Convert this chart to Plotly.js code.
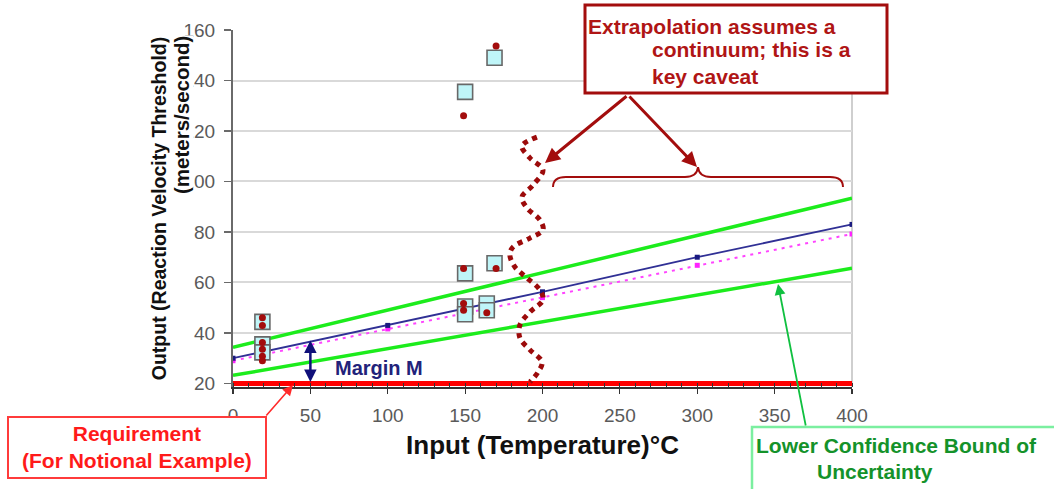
<!DOCTYPE html>
<html>
<head>
<meta charset="utf-8">
<script src="https://cdn.plot.ly/plotly-3.0.1.min.js"></script>
<style>
  html, body { margin: 0; padding: 0; background: #ffffff; }
  #chart { width: 1054px; height: 489px; }
</style>
</head>
<body>
<div id="chart"></div>
<script>
// ---- Data ----
const xTickVals = [0, 50, 100, 150, 200, 250, 300, 350, 400];
const yTickVals = [20, 40, 60, 80, 100, 120, 140, 160];

// Requirement (notional)
const reqX = [0, 400];
const reqY = [20, 20];

// Confidence bounds
const boundX = [0, 400];
const upperY = [34.3, 93.4];
const lowerY = [23.2, 65.6];

// Regression (navy) and fit (magenta dotted)
const regX = [0, 100, 200, 300, 400];
const regY = [30, 43, 56.3, 70, 83];
const fitY = [29, 41.6, 54, 66.8, 79.2];

// Test data: boxes (cyan squares) and points (dark red dots)
const sqX = [19, 19, 19, 150, 150, 150, 164, 164, 169, 150, 169];
const sqY = [44.4, 35.5, 32.3, 63.6, 50.5, 47.4, 51.7, 49.0, 67.6, 135.5, 149.0];
const dotX = [19, 19, 19, 19, 19, 19, 149, 149, 149, 164, 170, 149, 170];
const dotY = [46.0, 43.0, 36.2, 33.6, 30.8, 29.0, 65.5, 51.7, 49.0, 48.0, 65.5, 126.0, 153.7];

// Extrapolation "continuum" wavy line
const wavyX = [196.4, 186.7, 191.9, 200.3, 193.9, 186.7, 190.0, 198.4, 200.3, 191.9, 180.9, 178.9, 182.2, 190.0, 198.4, 200.3, 191.9, 185.4, 185.4, 191.9, 199.7, 197.1, 191.9];
const wavyY = [117.6, 114.0, 109.3, 104.5, 98.6, 93.8, 89.5, 84.7, 80.8, 77.6, 74.0, 70.9, 66.1, 61.8, 57.0, 53.1, 48.3, 43.2, 38.0, 33.3, 28.5, 24.5, 20.6];

// Margin arrow (requirement to regression at x=50)
const marginX = 50;
const marginBottom = 20;
const marginTop = 37;

// ---- Layout geometry helpers (pixel -> paper) ----
const L = 233, R = 852, T = 30, B = 387;
const W = R - L, H = B - T;
const px = v => (v - L) / W;
const py = v => (B - v) / H;
const P = (x, y) => px(x).toFixed(5) + ',' + py(y).toFixed(5);

const FONT = '"Liberation Sans", Arial, sans-serif';
const DARKRED = '#a30d0d';

const traces = [
  { x: reqX, y: reqY, mode: 'lines', line: { color: '#ff0000', width: 5 }, hoverinfo: 'skip' },
  { x: boundX, y: upperY, mode: 'lines', line: { color: '#1cec1c', width: 3.5 }, hoverinfo: 'skip' },
  { x: boundX, y: lowerY, mode: 'lines', line: { color: '#1cec1c', width: 3.5 }, hoverinfo: 'skip' },
  { x: regX, y: fitY, mode: 'lines+markers', line: { color: '#ff44ff', width: 2, dash: '3px,5px' },
    marker: { symbol: 'square', size: 5, color: '#ff22ff' }, hoverinfo: 'skip' },
  { x: regX, y: regY, mode: 'lines+markers', line: { color: '#303095', width: 1.8 },
    marker: { symbol: 'square', size: 5, color: '#1a1a80' }, hoverinfo: 'skip' },
  { x: sqX, y: sqY, mode: 'markers',
    marker: { symbol: 'square', size: 15, color: '#bff5f8', line: { color: '#686868', width: 1.6 } }, hoverinfo: 'skip' },
  { x: dotX, y: dotY, mode: 'markers', marker: { symbol: 'circle', size: 7, color: DARKRED }, hoverinfo: 'skip' },
  { x: wavyX, y: wavyY, mode: 'lines', line: { color: '#9c0a0a', width: 5, dash: '5px,5px', shape: 'spline', smoothing: 1.0 },
    hoverinfo: 'skip' }
];

const bracePath = 'M' + P(553, 187) + ' Q' + P(553, 177) + ' ' + P(566, 177) +
  ' L' + P(685, 177) + ' Q' + P(697, 177) + ' ' + P(698, 167) +
  ' Q' + P(699, 177) + ' ' + P(711, 177) + ' L' + P(830, 177) +
  ' Q' + P(843, 177) + ' ' + P(843, 187);

const layout = {
  width: 1054, height: 489,
  margin: { l: L, r: 1054 - R, t: T, b: 489 - B, pad: 0 },
  paper_bgcolor: '#ffffff', plot_bgcolor: '#ffffff',
  showlegend: false, hovermode: false,
  font: { family: FONT, color: '#555555' },
  xaxis: {
    range: [0, 400], tickvals: xTickVals, ticktext: xTickVals.map(String),
    showgrid: false, zeroline: false, showline: true, linecolor: '#333333', linewidth: 1.5,
    ticks: 'outside', ticklen: 5, tickcolor: '#333333', tickwidth: 1.2,
    minor: { dtick: 10, ticks: 'inside', ticklen: 4, tickcolor: '#333333', tickwidth: 1, showgrid: false },
    tickfont: { size: 19, color: '#5a5a5a', family: FONT }, ticklabelstandoff: 6,
    title: { text: 'Input (Temperature)°C', font: { size: 26, color: '#111111', family: FONT, weight: 'bold' }, standoff: 10 },
    fixedrange: true
  },
  yaxis: {
    range: [18.6, 160], tickvals: yTickVals, ticktext: yTickVals.map(String),
    showgrid: true, gridcolor: '#d9d9d9', gridwidth: 2, zeroline: false,
    showline: true, linecolor: '#6a6a6a', linewidth: 2,
    ticks: 'outside', ticklen: 7, tickcolor: '#6a6a6a', tickwidth: 1.2,
    tickfont: { size: 19, color: '#5a5a5a', family: FONT }, ticklabelstandoff: 5,
    title: { text: 'Output (Reaction Velocity Threshold)', font: { size: 19.5, color: '#111111', family: FONT, weight: 'bold' }, standoff: 12 },
    fixedrange: true
  },
  shapes: [
    // right plot border
    { type: 'line', xref: 'paper', yref: 'paper', x0: 1, x1: 1, y0: 0, y1: 1, line: { color: '#cfcfcf', width: 2 }, layer: 'below' },
    // brace
    { type: 'path', xref: 'paper', yref: 'paper', path: bracePath, line: { color: DARKRED, width: 2 }, layer: 'above' },
    // extrapolation box
    { type: 'rect', xref: 'paper', yref: 'paper', x0: px(585), x1: px(887), y0: py(93), y1: py(5),
      line: { color: DARKRED, width: 3 }, fillcolor: '#ffffff', layer: 'above' },
    // requirement box
    { type: 'rect', xref: 'paper', yref: 'paper', x0: px(8), x1: px(266), y0: py(478), y1: py(417),
      line: { color: '#ff3b3b', width: 2 }, fillcolor: '#ffffff', layer: 'above' },
    // lower confidence box
    { type: 'rect', xref: 'paper', yref: 'paper', x0: px(752), x1: px(1062), y0: py(492), y1: py(427),
      line: { color: '#7befa0', width: 2.5 }, fillcolor: '#ffffff', layer: 'above' }
  ],
  annotations: [
    // second line of y-axis title
    { xref: 'paper', yref: 'paper', x: px(181), y: py(115), text: '(meters/second)', textangle: -90,
      showarrow: false, xanchor: 'center', yanchor: 'middle', bgcolor: '#ffffff', borderpad: 0,
      font: { size: 20.5, color: '#111111', family: FONT, weight: 'bold' } },
    // Margin M
    { xref: 'x', yref: 'y', x: marginX, y: marginTop, ax: marginX, ay: marginBottom, axref: 'x', ayref: 'y',
      text: '', showarrow: true, arrowside: 'end+start', arrowhead: 2, arrowsize: 1, arrowwidth: 2.5, arrowcolor: '#10107a' },
    { xref: 'paper', yref: 'paper', x: px(333), y: py(368), text: 'Margin M', showarrow: false,
      xanchor: 'left', yanchor: 'middle', font: { size: 20, color: '#22227a', family: FONT, weight: 'bold' } },
    // extrapolation text
    { xref: 'paper', yref: 'paper', x: px(586), y: py(26), text: 'Extrapolation assumes a', showarrow: false,
      xanchor: 'left', yanchor: 'middle', font: { size: 21, color: '#b01515', family: FONT, weight: 'bold' } },
    { xref: 'paper', yref: 'paper', x: px(650), y: py(63), text: 'continuum; this is a<br>key caveat', showarrow: false,
      xanchor: 'left', yanchor: 'middle', align: 'left', font: { size: 21, color: '#b01515', family: FONT, weight: 'bold' } },
    // extrapolation arrows
    { xref: 'paper', yref: 'paper', x: px(545), y: py(163), ax: 83, ay: -68, text: '', showarrow: true,
      arrowhead: 2, arrowsize: 1, arrowwidth: 3, arrowcolor: DARKRED },
    { xref: 'paper', yref: 'paper', x: px(697), y: py(167), ax: -69, ay: -72, text: '', showarrow: true,
      arrowhead: 2, arrowsize: 1, arrowwidth: 3, arrowcolor: DARKRED },
    // requirement
    { xref: 'paper', yref: 'paper', x: px(137), y: py(447), text: 'Requirement<br>(For Notional Example)', showarrow: false,
      xanchor: 'center', yanchor: 'middle', align: 'center', font: { size: 21, color: '#ff1a1a', family: FONT, weight: 'bold' } },
    { xref: 'paper', yref: 'paper', x: px(293), y: py(385), ax: -28, ay: 32, text: '', showarrow: true,
      arrowhead: 2, arrowsize: 1.3, arrowwidth: 1.6, arrowcolor: '#ff2a2a' },
    // lower confidence bound
    { xref: 'paper', yref: 'paper', x: px(754), y: py(445), text: 'Lower Confidence Bound of', showarrow: false,
      xanchor: 'left', yanchor: 'middle', font: { size: 21, color: '#14922a', family: FONT, weight: 'bold' } },
    { xref: 'paper', yref: 'paper', x: px(815), y: py(471), text: 'Uncertainty', showarrow: false,
      xanchor: 'left', yanchor: 'middle', font: { size: 21, color: '#14922a', family: FONT, weight: 'bold' } },
    { xref: 'paper', yref: 'paper', x: px(778), y: py(284), ax: 28, ay: 143, text: '', showarrow: true,
      arrowhead: 2, arrowsize: 1.2, arrowwidth: 1.8, arrowcolor: '#10c040' }
  ]
};

Plotly.newPlot('chart', traces, layout, { displayModeBar: false, staticPlot: true });
</script>
</body>
</html>
